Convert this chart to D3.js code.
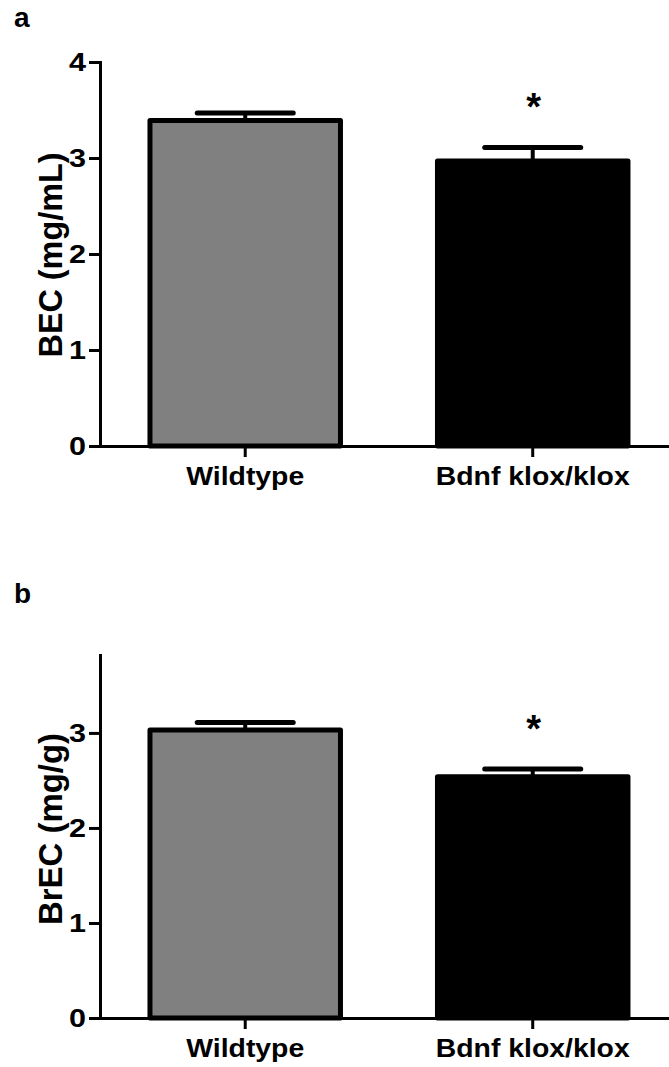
<!DOCTYPE html>
<html>
<head>
<meta charset="utf-8">
<script src="https://cdn.jsdelivr.net/npm/d3@7"></script>
<style>
  html, body { margin: 0; padding: 0; background: #fff; }
  svg { display: block; }
  text { font-family: "Liberation Sans", Arial, Helvetica, sans-serif; font-weight: bold; fill: #000; }
</style>
</head>
<body>
<svg id="chart" width="669" height="1067"></svg>
<script>
// ---- data ----
const categories = ["Wildtype", "Bdnf klox/klox"];
const barColors = ["#808080", "#000000"];
const becMeans = [3.39, 2.97];
const becErrTop = [3.47, 3.11];
const brecMeans = [3.03, 2.54];
const brecErrTop = [3.11, 2.62];
const becTicks = [0, 1, 2, 3, 4];
const brecTicks = [0, 1, 2, 3];
const significant = [false, true];

const svg = d3.select("#chart");

function panel(opts) {
  const { letter, letterY, yLabel, yLabelLen, means, errTop, ticks, yMax, y0, yTop, labelLens } = opts;
  const g = svg.append("g");

  const x = d3.scaleBand().domain(categories).range([100, 675])
    .paddingInner(0.32).paddingOuter(0.16).align(0.516);
  const y = d3.scaleLinear().domain([0, yMax]).range([y0, yTop]);

  // panel letter
  g.append("text").attr("x", 14).attr("y", letterY).attr("font-size", 28).text(letter);

  // bars
  const bw = x.bandwidth();
  g.selectAll("rect.bar").data(categories).enter().append("rect")
    .attr("class", "bar")
    .attr("x", d => x(d) + 2.5)
    .attr("width", bw - 5)
    .attr("y", (d, i) => y(means[i]))
    .attr("height", (d, i) => y(0) - y(means[i]))
    .attr("fill", (d, i) => barColors[i])
    .attr("stroke", "#000")
    .attr("stroke-width", 5)
    .attr("stroke-linejoin", "round");

  // error bars (upper only)
  g.selectAll("line.stem").data(categories).enter().append("line")
    .attr("x1", d => x(d) + bw / 2).attr("x2", d => x(d) + bw / 2)
    .attr("y1", (d, i) => y(means[i])).attr("y2", (d, i) => y(errTop[i]))
    .attr("stroke", "#000").attr("stroke-width", 4);
  g.selectAll("line.cap").data(categories).enter().append("line")
    .attr("x1", d => x(d) + bw / 2 - 48).attr("x2", d => x(d) + bw / 2 + 48)
    .attr("y1", (d, i) => y(errTop[i])).attr("y2", (d, i) => y(errTop[i]))
    .attr("stroke", "#000").attr("stroke-width", 5).attr("stroke-linecap", "round");

  // asterisks
  g.selectAll("text.star").data(categories.filter((d, i) => significant[i])).enter().append("text")
    .attr("x", d => x(d) + bw / 2 + 1)
    .attr("y", d => y(errTop[categories.indexOf(d)]) - 27)
    .attr("text-anchor", "middle")
    .attr("font-size", 38)
    .text("*");

  // y axis
  const ya = g.append("g").attr("transform", "translate(100,0)")
    .call(d3.axisLeft(y).tickValues(ticks).tickFormat(d3.format("d")).tickSize(11).tickSizeOuter(0).tickPadding(3));
  ya.select(".domain").attr("stroke-width", 3).attr("stroke-linecap", "square");
  ya.selectAll(".tick line").attr("stroke-width", 3);
  ya.selectAll(".tick text")
    .attr("font-size", 26).attr("font-family", null)
    .attr("textLength", 17).attr("lengthAdjust", "spacingAndGlyphs");

  // x axis
  const xa = g.append("g").attr("transform", `translate(0,${y0})`)
    .call(d3.axisBottom(x).tickSize(11).tickSizeOuter(0));
  xa.select(".domain").attr("stroke-width", 3);
  xa.selectAll(".tick line").attr("stroke-width", 3);
  xa.selectAll(".tick text")
    .attr("font-size", 26).attr("font-family", null)
    .attr("y", 39).attr("dy", 0)
    .attr("textLength", (d, i) => labelLens[i]).attr("lengthAdjust", "spacingAndGlyphs");
  g.selectAll("text").attr("font-family", null);

  // y label
  g.append("text")
    .attr("transform", `translate(62,${opts.yLabelCenter}) rotate(-90)`)
    .attr("text-anchor", "middle")
    .attr("font-size", 33)
    .attr("textLength", yLabelLen).attr("lengthAdjust", "spacingAndGlyphs")
    .text(yLabel);
}

panel({ letter: "a", letterY: 27, yLabel: "BEC (mg/mL)", yLabelLen: 205, yLabelCenter: 255,
        means: becMeans, errTop: becErrTop, ticks: becTicks, yMax: 4, y0: 446, yTop: 62, labelLens: [118, 194] });
panel({ letter: "b", letterY: 603, yLabel: "BrEC  (mg/g)", yLabelLen: 192, yLabelCenter: 829,
        means: brecMeans, errTop: brecErrTop, ticks: brecTicks, yMax: 3.82, y0: 1018, yTop: 655, labelLens: [118, 194] });
</script>
</body>
</html>
